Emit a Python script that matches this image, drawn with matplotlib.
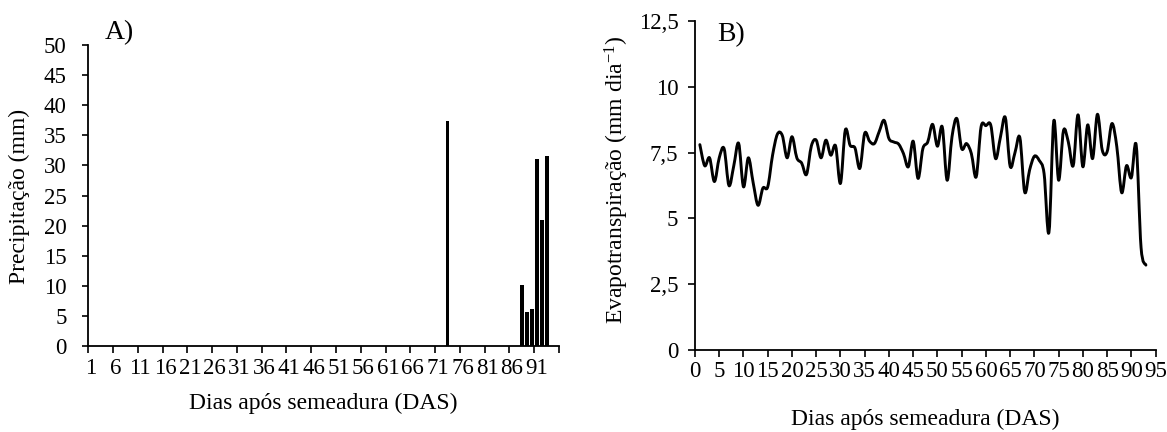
import numpy as np
import matplotlib
matplotlib.use("Agg")
import matplotlib.pyplot as plt
from matplotlib.path import Path
from matplotlib.patches import PathPatch
from matplotlib.ticker import FuncFormatter

plt.rcParams['font.family'] = ['Liberation Serif', 'DejaVu Serif']
plt.rcParams['mathtext.fontset'] = 'custom'
plt.rcParams['mathtext.rm'] = 'Liberation Serif'
plt.rcParams['mathtext.default'] = 'regular'

# ---------------- data ----------------
n_days_a = 95
rain_days = [73, 88, 89, 90, 91, 92, 93]
rain_mm = [37.3, 10.2, 5.6, 6.1, 31.1, 21.0, 31.5]
a_tick_labels = [str(d) for d in range(1, 92, 5)]

et_days = list(range(1, 94))
et_values = [7.8, 7.0, 7.3, 6.4, 7.3, 7.65, 6.25, 7.0, 7.85, 6.2,
             7.3, 6.35, 5.5, 6.15, 6.2, 7.4, 8.2, 8.15, 7.3, 8.1,
             7.3, 7.1, 6.67, 7.75, 7.97, 7.3, 7.97, 7.4, 7.75, 6.33,
             8.35, 7.77, 7.67, 6.9, 8.23, 7.93, 7.84, 8.3, 8.72, 8.03,
             7.9, 7.82, 7.46, 6.96, 7.93, 6.52, 7.65, 7.9, 8.57, 7.74,
             8.47, 6.45, 8.09, 8.79, 7.65, 7.84, 7.46, 6.58, 8.47, 8.52,
             8.54, 7.27, 8.09, 8.83, 6.98, 7.5, 8.07, 6.0, 6.83, 7.36,
             7.2, 6.7, 4.47, 8.7, 6.45, 8.33, 7.9, 7.0, 8.93, 6.96,
             8.55, 7.27, 8.95, 7.59, 7.53, 8.6, 7.72, 5.98, 7.0, 6.55,
             7.78, 3.9, 3.23]
b_xticks = list(range(0, 96, 5))
b_yticks = [0, 2.5, 5, 7.5, 10, 12.5]

# ---------------- figure ----------------
W, H = 1167, 432
fig = plt.figure(figsize=(W / 100, H / 100), dpi=100)

def fx(px):
    return px / W

def fy(py):
    return 1 - py / H

TICK_FS = 16.5
LABEL_FS = 17

# Panel A
axA = fig.add_axes([fx(88.3), fy(346), fx(559 - 88.3), (346 - 45) / H])
days_a = np.arange(1, n_days_a + 1)
precip = np.zeros(n_days_a)
for d, v in zip(rain_days, rain_mm):
    precip[d - 1] = v
axA.bar(days_a, precip, width=0.78, color='black', edgecolor='none')
axA.set_xlim(0.5, n_days_a + 0.5)
axA.set_ylim(0, 50)
axA.set_yticks(np.arange(0, 51, 5))
axA.set_xticks(np.arange(0.5, n_days_a + 1, 5))
axA.set_xticklabels([])
axA.set_xticks([int(s) for s in a_tick_labels], minor=True)
axA.set_xticklabels(a_tick_labels, minor=True)
axA.tick_params(axis='x', which='major', direction='out', length=5, width=1.2)
axA.tick_params(axis='x', which='minor', length=0, pad=8.5, labelsize=TICK_FS)
axA.tick_params(axis='y', direction='out', length=4, width=1.2, pad=11.5, labelsize=TICK_FS)
for s in ['top', 'right']:
    axA.spines[s].set_visible(False)
for s in ['left', 'bottom']:
    axA.spines[s].set_linewidth(1.3)
fig.text(fx(19), fy(196.5), 'Precipitação (mm)', rotation=90, ha='center', va='center', fontsize=LABEL_FS)
fig.text(fx(323.6), fy(403), 'Dias após semeadura (DAS)', ha='center', va='center', fontsize=LABEL_FS)
fig.text(fx(105), fy(39), 'A)', ha='left', va='baseline', fontsize=20)

# Panel B
axB = fig.add_axes([fx(695), fy(350.3), fx(1155.6 - 695), (350.3 - 20.7) / H])
pts = np.column_stack([et_days, et_values]).astype(float)
ext = np.vstack([pts[0], pts, pts[-1]])
verts = [tuple(pts[0])]
codes = [Path.MOVETO]
for i in range(1, len(ext) - 2):
    p0, p1, p2, p3 = ext[i - 1], ext[i], ext[i + 1], ext[i + 2]
    c1 = p1 + (p2 - p0) / 6.0
    c2 = p2 - (p3 - p1) / 6.0
    verts += [tuple(c1), tuple(c2), tuple(p2)]
    codes += [Path.CURVE4] * 3
axB.add_patch(PathPatch(Path(verts, codes), fill=False, lw=2.1, edgecolor='black',
                        joinstyle='round', capstyle='round'))
axB.set_xlim(0, 95)
axB.set_ylim(0, 12.5)
axB.set_xticks(b_xticks)
axB.set_yticks(b_yticks)
axB.yaxis.set_major_formatter(FuncFormatter(lambda v, p: ('%g' % v).replace('.', ',')))
axB.tick_params(axis='x', direction='out', length=5, width=1.2, pad=3, labelsize=TICK_FS)
axB.tick_params(axis='y', direction='out', length=5, width=1.2, pad=7, labelsize=TICK_FS)
for s in ['top', 'right']:
    axB.spines[s].set_visible(False)
for s in ['left', 'bottom']:
    axB.spines[s].set_linewidth(1.3)
fig.text(fx(617), fy(180), 'Evapotranspiração (mm dia$^{-1}$)', rotation=90, ha='center', va='center', fontsize=LABEL_FS)
fig.text(fx(925), fy(419), 'Dias após semeadura (DAS)', ha='center', va='center', fontsize=LABEL_FS)
fig.text(fx(717), fy(41.5), 'B)', ha='left', va='baseline', fontsize=20)

fig.savefig('out.png', dpi=100)
